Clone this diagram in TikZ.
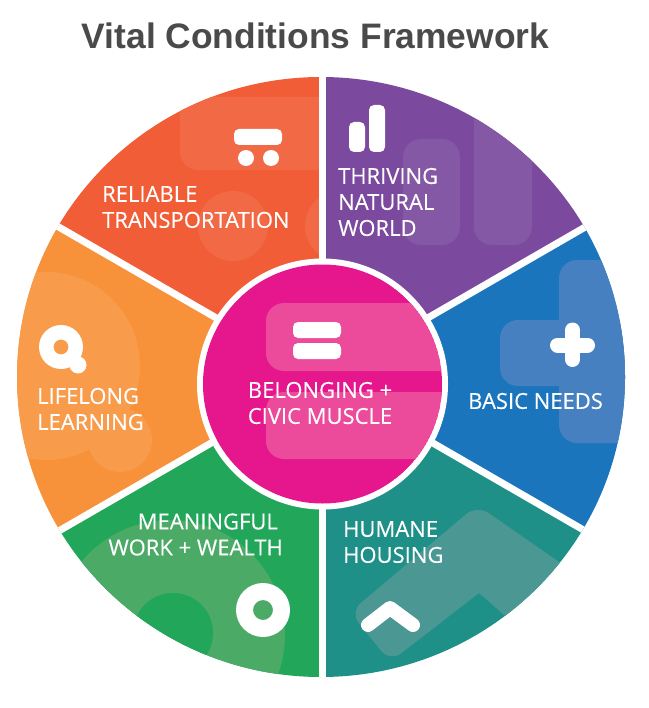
\documentclass[tikz,border=0pt]{standalone}
\usepackage{fontspec}
\setmainfont{Open Sans}
\newfontfamily\titlefont{Liberation Sans}
\newfontfamily\vitalfont[FakeBold=0.25]{Open Sans}
\usetikzlibrary{calc,positioning}
\definecolor{wineRed}{HTML}{F15D36}
\definecolor{paleRed}{HTML}{F26A45}
\definecolor{wineOrange}{HTML}{F7923A}
\definecolor{paleOrange}{HTML}{F89C4C}
\definecolor{wineGreen}{HTML}{21A65A}
\definecolor{paleGreen}{HTML}{4AAA66}
\definecolor{wineTeal}{HTML}{1F9087}
\definecolor{paleTeal}{HTML}{4A9793}
\definecolor{wineBlue}{HTML}{1B75BC}
\definecolor{paleBlue}{HTML}{4680C0}
\definecolor{winePurple}{HTML}{7B4A9E}
\definecolor{palePurple}{HTML}{8458A5}
\definecolor{winePink}{HTML}{E6178D}
\definecolor{palePink}{HTML}{EC4A9B}
\definecolor{titleGrey}{HTML}{4A4A4A}
\tikzset{
  vital/.style={inner sep=0pt, text=white, align=left, anchor=west,
                font=\vitalfont\fontsize{22}{26}\selectfont},
  gap/.style={white, line width=7pt},
  band/.style={rounded corners=18pt},
  icon/.style={white, rounded corners=5pt}
}
\begin{document}
\begin{tikzpicture}[x=1pt,y=-1pt]
  \useasboundingbox (0,0) rectangle (648,708);
  \def\slice#1#2#3#4{%
    \begin{scope}
      \clip (hub) -- (rim#1) -- (rim#2) -- cycle;
      \fill[#3] (0,0) rectangle (648,708);
      #4
    \end{scope}
  }
  \coordinate (hub) at (322,379);
  \coordinate (disc) at (322.5,384);
  \foreach \i in {0,...,5}{
    \pgfmathsetmacro{\a}{60*\i-90}
    \coordinate (rim\i) at ($(hub)+(\a:700)$);
  }

  \node[font=\titlefont\bfseries\fontsize{35.4}{40}\selectfont, text=titleGrey, inner sep=0pt]
    (title) at (315.5,36) {Vital Conditions Framework};

  \begin{scope}
    \clip (321,377) ellipse (304 and 300);
    \slice{0}{1}{winePurple}{
      \fill[palePurple,band] (403,139) rectangle (460,245);
      \fill[palePurple,band] (474,90) rectangle (532,245);
    }
    \slice{1}{2}{wineBlue}{
      \fill[paleBlue,band] (500,320) rectangle (660,386);
      \fill[paleBlue,band] (559,260) rectangle (660,443);
    }
    \slice{2}{3}{wineTeal}{
      \fill[paleTeal,rounded corners=14pt] (350,612) -- (477,505) -- (640,618) -- (590,690)
        [sharp corners] -- (479,593) [rounded corners=14pt] -- (390,662) -- cycle;
    }
    \slice{3}{4}{wineGreen}{
      \fill[paleGreen] (170,635) circle (115);
      \fill[wineGreen] (173,633) circle (40);
    }
    \slice{4}{5}{wineOrange}{
      \fill[paleOrange] (46,366) circle (94);
      \fill[paleOrange] (120,440) circle (32);
    }
    \slice{5}{0}{wineRed}{
      \fill[paleRed,band] (180,97) rectangle (360,170);
      \fill[paleRed] (233,226) circle (35);
      \fill[paleRed] (340,226) circle (35);
    }
    \foreach \i in {0,...,5}{
      \draw[gap] (hub) -- (rim\i);
    }
  \end{scope}

  % centre disc
  \fill[white] (disc) circle (125.5);
  \begin{scope}
    \clip (disc) circle (119.5);
    \fill[winePink] (disc) circle (119.5);
    \fill[palePink,band] (266,303) rectangle (470,371);
    \fill[palePink,band] (266,392) rectangle (470,459);
  \end{scope}

  % icons
  \fill[icon] (349,122) rectangle (365,152);
  \fill[icon] (369,105) rectangle (385,152);
  \draw[white,line width=15pt,line cap=round] (572.5,330) -- (572.5,359.5);
  \draw[white,line width=15pt,line cap=round] (557.5,345) -- (587.5,345);
  \draw[white,line width=14pt,line cap=round,line join=round] (368,625) -- (390,608) -- (413,625);
  \fill[white,even odd rule] (263,610) circle (27) (263,610) circle (10);
  \fill[white] (78,365) circle (8.5);
  \fill[white,even odd rule] (61,347) circle (22) (61,347) circle (7.5);
  \fill[icon] (234,129) rectangle (282,145);
  \fill[white] (246,158) circle (8);
  \fill[white] (271,158) circle (8);
  \fill[icon] (293,322) rectangle (341,338);
  \fill[icon] (293,343) rectangle (341,359);

  % labels
  \node[vital] (thriving) at (338,202) {THRIVING\\NATURAL\\WORLD};
  \node[vital] (basic) at (468,401) {BASIC NEEDS};
  \node[vital] (humane) at (343,542) {HUMANE\\HOUSING};
  \node[vital,align=right,anchor=east] (meaningful) at (283,534.5) {MEANINGFUL\hspace*{5pt}\\WORK + WEALTH};
  \node[vital] (lifelong) at (37,409) {LIFELONG\\LEARNING};
  \node[vital] (reliable) at (102,207) {RELIABLE\\TRANSPORTATION};
  \node[vital,align=center,anchor=center] (belonging) at (320,403) {BELONGING +\\CIVIC MUSCLE};
\end{tikzpicture}
\end{document}
